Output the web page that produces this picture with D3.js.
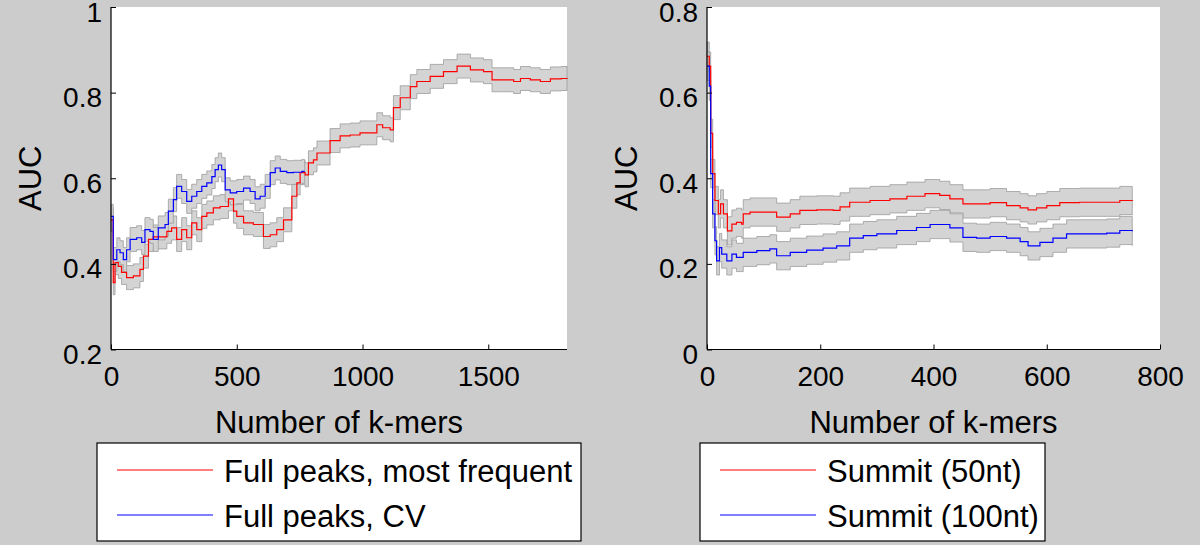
<!DOCTYPE html>
<html lang="en">
<head>
    <meta charset="UTF-8">
    <title>AUC vs number of k-mers</title>
    <script src="https://d3js.org/d3.v7.min.js"></script>
    <style>
        body { margin: 0; background: #cccccc; }
        text { font-family: "Liberation Sans", Arial, Helvetica, sans-serif; fill: #000; }
    </style>
</head>
<body>
<script>
    // left panel: full peaks
    const leftRedK = [0, 9, 16, 29, 42, 62, 89, 115, 129, 149, 168, 195, 222, 241, 261, 281, 301, 321, 341, 361, 381, 407, 434, 467, 487, 500, 527, 566, 606, 633, 659, 686, 706, 719, 739, 752, 772, 785, 805, 819, 871, 911, 951, 990, 1031, 1057, 1080, 1110, 1123, 1150, 1190, 1216, 1269, 1322, 1376, 1429, 1481, 1515, 1561, 1601, 1628, 1667, 1707, 1747, 1790, 1813]
    const leftRedAUC = [0.503, 0.356, 0.403, 0.394, 0.38, 0.368, 0.372, 0.387, 0.418, 0.457, 0.463, 0.463, 0.476, 0.484, 0.457, 0.48, 0.461, 0.496, 0.48, 0.511, 0.519, 0.531, 0.534, 0.552, 0.523, 0.511, 0.496, 0.492, 0.464, 0.468, 0.48, 0.503, 0.503, 0.558, 0.589, 0.613, 0.608, 0.636, 0.643, 0.659, 0.688, 0.699, 0.701, 0.706, 0.706, 0.725, 0.718, 0.713, 0.765, 0.788, 0.814, 0.826, 0.838, 0.849, 0.862, 0.853, 0.849, 0.83, 0.83, 0.826, 0.833, 0.83, 0.826, 0.832, 0.833, 0.834]
    const leftBlueK = [0, 9, 23, 36, 49, 62, 76, 102, 122, 135, 155, 168, 188, 215, 228, 248, 261, 281, 301, 321, 341, 361, 381, 401, 414, 427, 440, 454, 474, 500, 527, 553, 573, 593, 613, 633, 653, 673, 699, 725, 759, 770]
    const leftBlueAUC = [0.511, 0.41, 0.433, 0.426, 0.41, 0.433, 0.457, 0.461, 0.45, 0.48, 0.476, 0.457, 0.484, 0.492, 0.523, 0.55, 0.581, 0.569, 0.546, 0.558, 0.569, 0.581, 0.589, 0.604, 0.62, 0.631, 0.62, 0.573, 0.566, 0.569, 0.577, 0.569, 0.552, 0.558, 0.581, 0.613, 0.624, 0.616, 0.613, 0.614, 0.616, 0.616]
    const leftHW = 0.028

    // right panel: summits
    const rightRedK = [0, 4, 6.5, 10, 14, 20, 24, 29, 36, 44, 52, 61, 64, 76, 105, 123, 147, 164, 194, 223, 235, 252, 288, 323, 353, 385, 411, 429, 452, 476, 500, 529, 553, 567, 582, 600, 623, 658, 706, 729, 751]
    const rightRedAUC = [0.685, 0.662, 0.505, 0.411, 0.348, 0.317, 0.34, 0.317, 0.277, 0.293, 0.297, 0.293, 0.317, 0.321, 0.321, 0.309, 0.317, 0.325, 0.326, 0.325, 0.333, 0.344, 0.348, 0.352, 0.358, 0.364, 0.36, 0.352, 0.34, 0.34, 0.343, 0.336, 0.331, 0.326, 0.331, 0.336, 0.343, 0.344, 0.344, 0.348, 0.347]
    const rightBlueK = [0, 4, 6.5, 10, 14, 17, 22, 26, 35, 44, 52, 64, 88, 111, 123, 147, 176, 205, 229, 252, 276, 300, 335, 370, 394, 411, 429, 452, 476, 500, 529, 553, 567, 588, 611, 635, 670, 706, 729, 751]
    const rightBlueAUC = [0.662, 0.615, 0.411, 0.317, 0.254, 0.207, 0.238, 0.223, 0.207, 0.223, 0.215, 0.227, 0.231, 0.235, 0.219, 0.227, 0.232, 0.237, 0.242, 0.26, 0.266, 0.27, 0.278, 0.285, 0.292, 0.292, 0.284, 0.262, 0.26, 0.264, 0.26, 0.252, 0.242, 0.25, 0.26, 0.27, 0.27, 0.272, 0.278, 0.276]
    const rightHW = 0.033

    const leftTicksX = [0, 500, 1000, 1500]
    const leftTicksY = [0.2, 0.4, 0.6, 0.8, 1]
    const rightTicksX = [0, 200, 400, 600, 800]
    const rightTicksY = [0, 0.2, 0.4, 0.6, 0.8]
    const leftNames = ['Full peaks, most frequent', 'Full peaks, CV']
    const rightNames = ['Summit (50nt)', 'Summit (100nt)']
    const colors = ['#ff0000', '#0000ff']

    const width = 1200
    const height = 545
    const plotTop = 7
    const plotBottom = 349.5

    var svg = d3.select("body")
        .append("svg")
        .attr("width", width)
        .attr("height", height)

    svg.append("rect")
        .attr("width", width)
        .attr("height", height)
        .attr("fill", "#cccccc")

    function zip(ks, vs) {
        return ks.map(function (k, i) { return {k: k, v: vs[i]} })
    }

    function panel(opt) {
        var x = d3.scaleLinear().domain(opt.xDomain).range([opt.x0, opt.x1])
        var y = d3.scaleLinear().domain(opt.yDomain).range([plotBottom, plotTop])
        var g = svg.append("g")

        g.append("rect")
            .attr("x", opt.x0)
            .attr("y", plotTop)
            .attr("width", opt.x1 - opt.x0)
            .attr("height", plotBottom - plotTop)
            .attr("fill", "#fff")

        var area = d3.area()
            .x(function (d) { return x(d.k) })
            .y0(function (d) { return y(d.v - opt.hw) })
            .y1(function (d) { return y(d.v + opt.hw) })
            .curve(d3.curveStepAfter)
        var line = d3.line()
            .x(function (d) { return x(d.k) })
            .y(function (d) { return y(d.v) })
            .curve(d3.curveStepAfter)

        opt.series.forEach(function (s) {
            g.append("path")
                .attr("d", area(s))
                .attr("fill", "#d4d4d4")
                .attr("stroke", "#9c9c9c")
                .attr("stroke-width", 0.8)
        })
        opt.series.forEach(function (s, j) {
            g.append("path")
                .attr("d", line(s))
                .attr("fill", "none")
                .attr("stroke", colors[j])
                .attr("stroke-width", 1.2)
        })

        var xAxis = g.append("g")
            .attr("transform", "translate(0," + plotBottom + ")")
            .call(d3.axisBottom(x).tickValues(opt.ticksX).tickSize(-5).tickPadding(17).tickFormat(d3.format("")))
        var yAxis = g.append("g")
            .attr("transform", "translate(" + opt.x0 + ",0)")
            .call(d3.axisLeft(y).tickValues(opt.ticksY).tickSize(-5).tickPadding(9).tickFormat(d3.format("")))
        xAxis.select(".domain").attr("d", "M" + opt.x0 + ",0H" + opt.x1)
        yAxis.select(".domain").attr("d", "M0," + plotBottom + "V" + plotTop)
        ;[xAxis, yAxis].forEach(function (a) {
            a.select(".domain").attr("stroke", "#000").attr("stroke-width", 1.2)
            a.selectAll(".tick line").attr("stroke", "#000")
            a.selectAll(".tick text").attr("font-size", 28).attr("fill", "#000")
                .style("font-family", '"Liberation Sans", Arial, sans-serif')
        })
        yAxis.selectAll(".tick text").attr("dy", "0.5em")

        g.append("text")
            .text("Number of k-mers")
            .attr("x", (opt.x0 + opt.x1) / 2)
            .attr("y", 433)
            .attr("text-anchor", "middle")
            .attr("font-size", 31)
        g.append("text")
            .text("AUC")
            .attr("transform", "translate(" + (opt.x0 - 70) + "," + ((plotTop + plotBottom) / 2) + ") rotate(-90)")
            .attr("text-anchor", "middle")
            .attr("font-size", 31)

        // legend
        g.append("rect")
            .attr("x", opt.lx0)
            .attr("y", 443)
            .attr("width", opt.lx1 - opt.lx0)
            .attr("height", 98)
            .attr("fill", "#fff")
            .attr("stroke", "#000")
            .attr("stroke-width", 1.2)
        opt.names.forEach(function (n, j) {
            var cy = 470 + j * 45
            g.append("line")
                .attr("x1", opt.lx0 + 20)
                .attr("x2", opt.lx0 + 116)
                .attr("y1", cy)
                .attr("y2", cy)
                .attr("stroke", colors[j])
                .attr("stroke-width", 1.2)
            g.append("text")
                .text(n)
                .attr("x", opt.lx0 + 127)
                .attr("y", cy + 12)
                .attr("font-size", 31)
        })
    }

    panel({
        x0: 111, x1: 567, xDomain: [0, 1813], yDomain: [0.2, 1],
        ticksX: leftTicksX, ticksY: leftTicksY, hw: leftHW,
        series: [zip(leftRedK, leftRedAUC), zip(leftBlueK, leftBlueAUC)],
        names: leftNames, lx0: 97, lx1: 581
    })
    panel({
        x0: 707, x1: 1160, xDomain: [0, 800], yDomain: [0, 0.8],
        ticksX: rightTicksX, ticksY: rightTicksY, hw: rightHW,
        series: [zip(rightRedK, rightRedAUC), zip(rightBlueK, rightBlueAUC)],
        names: rightNames, lx0: 700, lx1: 1045
    })
</script>
</body>
</html>
